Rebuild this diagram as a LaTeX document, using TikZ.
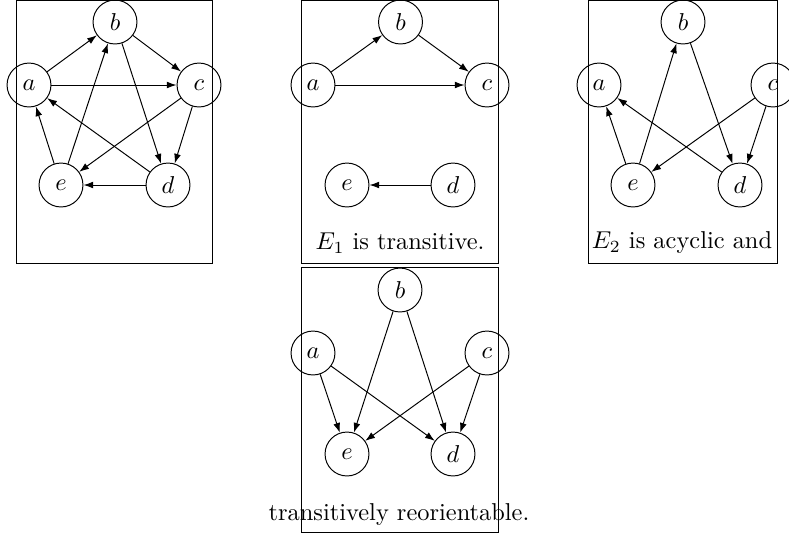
\documentclass[tikz,border=0pt]{standalone}
\usetikzlibrary{arrows.meta}
\begin{document}
\begin{tikzpicture}[x=0.4098pt,y=-0.4098pt,
  vtx/.style={circle,draw,minimum size=18pt,inner sep=0pt},
  arr/.style={-{Latex[length=4pt,width=2.8pt]}},
  panel/.style={draw,line width=0.4pt}]
\useasboundingbox (0,0) rectangle (789,536);
% panel boxes
\draw[panel] (16,0.5) rectangle (212.5,263.3);
\draw[panel] (301.7,0.5) rectangle (498.3,263.3);
\draw[panel] (588.3,0.5) rectangle (777.3,263.3);
\draw[panel] (301.7,267.7) rectangle (498.3,532);
% panel 1
\node[vtx] (pa) at (29,85) {$a$};
\node[vtx] (pb) at (115,22) {$b$};
\node[vtx] (pc) at (199,85) {$c$};
\node[vtx] (pd) at (168,185) {$d$};
\node[vtx] (pe) at (61,185) {$e$};
\draw[arr] (pa) -- (pb);
\draw[arr] (pa) -- (pc);
\draw[arr] (pb) -- (pc);
\draw[arr] (pb) -- (pd);
\draw[arr] (pc) -- (pd);
\draw[arr] (pc) -- (pe);
\draw[arr] (pd) -- (pe);
\draw[arr] (pd) -- (pa);
\draw[arr] (pe) -- (pa);
\draw[arr] (pe) -- (pb);
% panel 2
\node[vtx] (qa) at (313,85) {$a$};
\node[vtx] (qb) at (400.5,22) {$b$};
\node[vtx] (qc) at (487,85) {$c$};
\node[vtx] (qd) at (453,185) {$d$};
\node[vtx] (qe) at (347,185) {$e$};
\draw[arr] (qa) -- (qb);
\draw[arr] (qb) -- (qc);
\draw[arr] (qa) -- (qc);
\draw[arr] (qd) -- (qe);
\node (t1) at (400,243) {$E_1$ is transitive.};
% panel 3
\node[vtx] (ra) at (599,85) {$a$};
\node[vtx] (rb) at (683,22) {$b$};
\node[vtx] (rc) at (773,85) {$c$};
\node[vtx] (rd) at (740,185) {$d$};
\node[vtx] (re) at (633,185) {$e$};
\draw[arr] (re) -- (rb);
\draw[arr] (rb) -- (rd);
\draw[arr] (rc) -- (rd);
\draw[arr] (rc) -- (re);
\draw[arr] (rd) -- (ra);
\draw[arr] (re) -- (ra);
\node (t2) at (682,243) {$E_2$ is acyclic and};
% panel 4
\node[vtx] (sa) at (313,353) {$a$};
\node[vtx] (sb) at (400,290) {$b$};
\node[vtx] (sc) at (487,353) {$c$};
\node[vtx] (sd) at (453,454) {$d$};
\node[vtx] (se) at (347,454) {$e$};
\draw[arr] (sa) -- (se);
\draw[arr] (sa) -- (sd);
\draw[arr] (sb) -- (se);
\draw[arr] (sb) -- (sd);
\draw[arr] (sc) -- (se);
\draw[arr] (sc) -- (sd);
\node (t3) at (399,515) {transitively reorientable.};
\end{tikzpicture}
\end{document}
